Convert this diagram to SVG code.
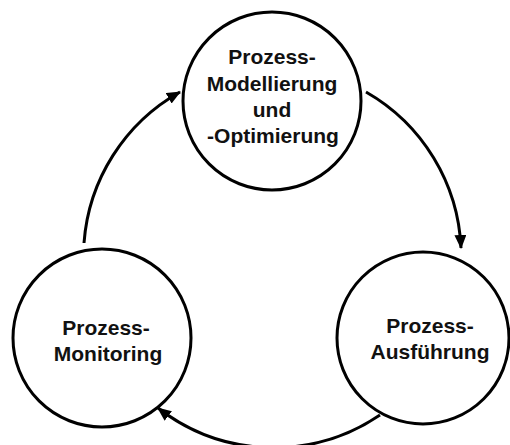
<svg xmlns="http://www.w3.org/2000/svg" width="510" height="445" viewBox="0 0 510 445">
<defs>
<style>
.node circle{fill:#fff;stroke:#000;stroke-width:3}
.node text{font-family:"Liberation Sans",Arial,sans-serif;font-weight:bold;font-size:21px;fill:#111;text-anchor:middle}
.edge{fill:none;stroke:#000;stroke-width:3}
</style>
<marker id="arr" markerUnits="userSpaceOnUse" markerWidth="16" markerHeight="14" refX="13" refY="6" orient="auto">
<path d="M0,0 L14,6 L0,12 Z" fill="#000"/>
</marker>
</defs>
<rect width="510" height="445" fill="#fff"/>
<g id="connectors">
<path class="edge" d="M84,243 A189,189 0 0 1 180,92" marker-end="url(#arr)"/>
<path class="edge" d="M366,92 A189,189 0 0 1 461,248" marker-end="url(#arr)"/>
<path class="edge" d="M380,415 A189,189 0 0 1 158,408" marker-end="url(#arr)"/>
</g>
<g id="node-modellierung" class="node">
<circle cx="272" cy="101" r="89"/>
<text x="272" y="64">Prozess-</text>
<text x="272" y="91">Modellierung</text>
<text x="272" y="117">und</text>
<text x="273" y="143">-Optimierung</text>
</g>
<g id="node-monitoring" class="node">
<circle cx="102" cy="338" r="89"/>
<text x="106" y="335">Prozess-</text>
<text x="108" y="361">Monitoring</text>
</g>
<g id="node-ausfuehrung" class="node">
<circle cx="423" cy="338" r="86"/>
<text x="430" y="333">Prozess-</text>
<text x="430" y="359">Ausführung</text>
</g>
</svg>
